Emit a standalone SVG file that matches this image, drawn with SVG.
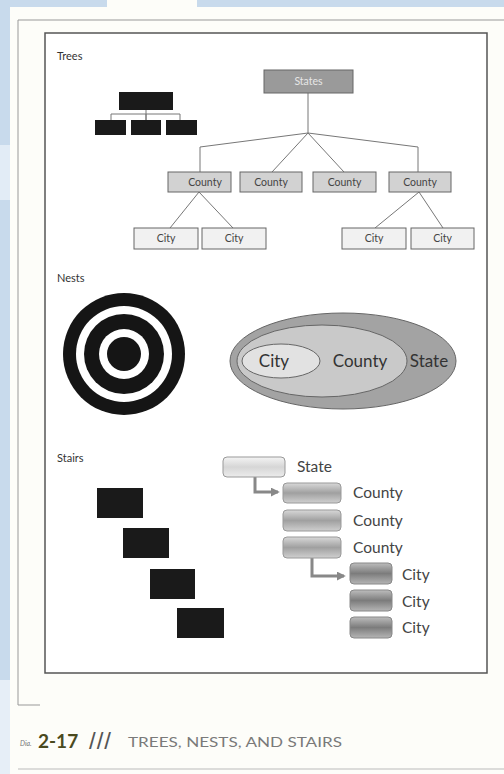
<svg xmlns="http://www.w3.org/2000/svg" width="504" height="774" viewBox="0 0 504 774">
<defs>
<style>
.lbl{font-family:Lato,"Open Sans","Liberation Sans",sans-serif;fill:#333}
.sec{font-size:11px}
.tb{stroke:#666;stroke-width:1}
.tl{font-size:10.5px;text-anchor:middle;fill:#444}
.conn{stroke:#777;stroke-width:1;fill:none}
.blk{fill:#1a1a1a}
.st{font-size:15.5px;fill:#444}
.arr{stroke:#888;stroke-width:3;fill:none}
</style>
<linearGradient id="gS" x1="0" y1="0" x2="0" y2="1">
<stop offset="0" stop-color="#f4f4f4"/><stop offset="0.5" stop-color="#d6d6d6"/><stop offset="1" stop-color="#ececec"/>
</linearGradient>
<linearGradient id="gC" x1="0" y1="0" x2="0" y2="1">
<stop offset="0" stop-color="#d8d8d8"/><stop offset="0.5" stop-color="#a0a0a0"/><stop offset="1" stop-color="#cfcfcf"/>
</linearGradient>
<linearGradient id="gY" x1="0" y1="0" x2="0" y2="1">
<stop offset="0" stop-color="#bdbdbd"/><stop offset="0.5" stop-color="#7c7c7c"/><stop offset="1" stop-color="#b5b5b5"/>
</linearGradient>
<marker id="ah" viewBox="0 0 10 10" refX="8" refY="5" markerWidth="3" markerHeight="3" orient="auto">
<path d="M0,0 L10,5 L0,10 z" fill="#888"/>
</marker>
</defs>
<!-- background -->
<rect x="0" y="0" width="504" height="774" fill="#fdfdf9"/>
<rect x="0" y="0" width="107" height="7" fill="#c8daec"/>
<rect x="197" y="0" width="307" height="7" fill="#c8daec"/>
<rect x="0" y="0" width="10" height="145" fill="#c8daec"/>
<rect x="0" y="145" width="10" height="55" fill="#e2ecf6"/>
<rect x="0" y="200" width="10" height="480" fill="#c8daec"/>
<rect x="0" y="680" width="10" height="94" fill="#e6eef7"/>
<!-- page frame -->
<path d="M18,20 H504 M18,20 V705 H40" stroke="#999" stroke-width="1" fill="none"/>
<rect x="45" y="33" width="442" height="640" fill="#fff" stroke="#555" stroke-width="1.5"/>

<!-- Trees -->
<text class="lbl sec" x="57" y="60">Trees</text>
<g id="mini-tree">
<path class="conn" d="M146,110 V120 M111,120 V114 H180 V120 M146,114 V120"/>
<rect class="blk" x="119" y="92" width="54" height="18"/>
<rect class="blk" x="95" y="120" width="31" height="15"/>
<rect class="blk" x="131" y="120" width="30" height="15"/>
<rect class="blk" x="166" y="120" width="31" height="15"/>
</g>
<g id="tree-connectors">
<path class="conn" d="M308,93 V133 M308,133 L200,147 V172 M308,133 L272,172 M308,133 L344,172 M308,133 L418,147 V172 M199,192 L170,228 M199,192 L233,228 M419,192 L375,228 M419,192 L443,228"/>
</g>
<g id="states"><rect class="tb" x="264" y="70" width="89" height="23" fill="#9a9a9a" stroke="#555"/><text class="lbl tl" x="308.5" y="85" style="fill:#e6e6e6">States</text></g>
<g id="county1"><rect class="tb" x="168" y="172" width="63" height="20" fill="#d2d2d2"/><text class="lbl tl" x="205" y="186">County</text></g>
<g id="county2"><rect class="tb" x="240" y="172" width="62" height="20" fill="#d2d2d2"/><text class="lbl tl" x="271" y="186">County</text></g>
<g id="county3"><rect class="tb" x="313" y="172" width="63" height="20" fill="#d2d2d2"/><text class="lbl tl" x="344.5" y="186">County</text></g>
<g id="county4"><rect class="tb" x="389" y="172" width="62" height="20" fill="#d2d2d2"/><text class="lbl tl" x="420" y="186">County</text></g>
<g id="city1"><rect class="tb" x="134" y="228" width="64" height="21" fill="#f1f1f1"/><text class="lbl tl" x="166" y="242">City</text></g>
<g id="city2"><rect class="tb" x="202" y="228" width="64" height="21" fill="#f1f1f1"/><text class="lbl tl" x="234" y="242">City</text></g>
<g id="city3"><rect class="tb" x="342" y="228" width="64" height="21" fill="#f1f1f1"/><text class="lbl tl" x="374" y="242">City</text></g>
<g id="city4"><rect class="tb" x="411" y="228" width="63" height="21" fill="#f1f1f1"/><text class="lbl tl" x="442.5" y="242">City</text></g>

<!-- Nests -->
<text class="lbl sec" x="57" y="282">Nests</text>
<g id="target">
<circle cx="124" cy="354" r="61" fill="#151515"/>
<circle cx="124" cy="354" r="48" fill="#fff"/>
<circle cx="124" cy="354" r="40" fill="#151515"/>
<circle cx="124" cy="354" r="25" fill="#fff"/>
<circle cx="124" cy="354" r="17" fill="#151515"/>
</g>
<g id="state-ellipse"><ellipse cx="343" cy="361" rx="113" ry="48" fill="#a3a3a3" stroke="#666" stroke-width="1"/><text class="lbl" x="429" y="367" font-size="17" text-anchor="middle">State</text></g>
<g id="county-ellipse"><ellipse cx="322" cy="361" rx="85" ry="36" fill="#c9c9c9" stroke="#666" stroke-width="1"/><text class="lbl" x="360" y="367" font-size="17" text-anchor="middle">County</text></g>
<g id="city-ellipse"><ellipse cx="281" cy="361" rx="39" ry="17" fill="#e2e2e2" stroke="#666" stroke-width="1"/><text class="lbl" x="274" y="367" font-size="17" text-anchor="middle">City</text></g>

<!-- Stairs -->
<text class="lbl sec" x="57" y="462">Stairs</text>
<g id="stair-blocks">
<rect class="blk" x="97" y="488" width="46" height="30"/>
<rect class="blk" x="123" y="528" width="46" height="30"/>
<rect class="blk" x="150" y="569" width="45" height="30"/>
<rect class="blk" x="177" y="608" width="47" height="30"/>
</g>
<g id="stair-connectors">
<path class="arr" d="M255,477 V492 H278" marker-end="url(#ah)"/>
<path class="arr" d="M312,558 V576 H344" marker-end="url(#ah)"/>
</g>
<g id="s-state"><rect x="223" y="457" width="62" height="20" rx="4" fill="url(#gS)" stroke="#999"/><text class="lbl st" x="297" y="472">State</text></g>
<g id="s-county1"><rect x="283" y="483" width="58" height="20" rx="4" fill="url(#gC)" stroke="#999"/><text class="lbl st" x="353" y="498">County</text></g>
<g id="s-county2"><rect x="283" y="510" width="58" height="21" rx="4" fill="url(#gC)" stroke="#999"/><text class="lbl st" x="353" y="526">County</text></g>
<g id="s-county3"><rect x="283" y="537" width="58" height="21" rx="4" fill="url(#gC)" stroke="#999"/><text class="lbl st" x="353" y="553">County</text></g>
<g id="s-city1"><rect x="350" y="563" width="42" height="21" rx="4" fill="url(#gY)" stroke="#888"/><text class="lbl st" x="402" y="580">City</text></g>
<g id="s-city2"><rect x="350" y="590" width="42" height="21" rx="4" fill="url(#gY)" stroke="#888"/><text class="lbl st" x="402" y="607">City</text></g>
<g id="s-city3"><rect x="350" y="617" width="42" height="21" rx="4" fill="url(#gY)" stroke="#888"/><text class="lbl st" x="402" y="633">City</text></g>

<!-- caption -->
<text x="20" y="746" font-family="Lato,'Liberation Serif',serif" font-style="italic" font-size="7" fill="#777">Dia.</text>
<text x="38" y="748" font-family="Lato,'Liberation Sans',sans-serif" font-weight="bold" font-size="19" fill="#4a4a1e">2-17</text>
<text x="89" y="749" font-family="'Liberation Sans',sans-serif" font-size="24" fill="#555" letter-spacing="1">///</text>
<text x="128" y="747" font-family="Lato,'Liberation Sans',sans-serif" font-size="14" fill="#7a7a7a" textLength="214" lengthAdjust="spacingAndGlyphs">TREES, NESTS, AND STAIRS</text>
<path d="M18,769 H504" stroke="#bbb" stroke-width="1"/>
</svg>
